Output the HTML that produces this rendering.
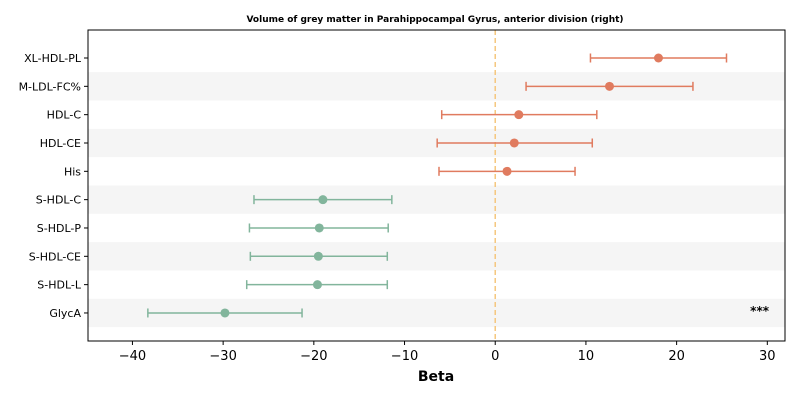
<!DOCTYPE html>
<html><head><meta charset="utf-8"><style>
body{margin:0;background:#fff;}
svg text{font-family:"DejaVu Sans","Liberation Sans",sans-serif;}
</style></head><body>
<svg id="chart" width="800" height="400" xmlns="http://www.w3.org/2000/svg">
<text x="435" y="22" text-anchor="middle" font-size="9" font-weight="bold">Volume of grey matter in Parahippocampal Gyrus, anterior division (right)</text>
<g id="bands"></g>
<g id="marks"></g>
<rect x="88" y="30" width="697" height="311" fill="none" stroke="#000" stroke-width="1"/>
<g id="axes"></g>
<text x="436" y="381" text-anchor="middle" font-size="14" font-weight="bold">Beta</text>
<text x="769" y="315" text-anchor="end" font-size="12" font-weight="bold">***</text>
</svg>
<script>
const categories=["XL-HDL-PL","M-LDL-FC%","HDL-C","HDL-CE","His","S-HDL-C","S-HDL-P","S-HDL-CE","S-HDL-L","GlycA"];
const betas=[18.0,12.6,2.6,2.1,1.3,-19.0,-19.4,-19.5,-19.6,-29.8];
const lower=[10.5,3.4,-5.9,-6.4,-6.2,-26.6,-27.1,-27.0,-27.4,-38.3];
const upper=[25.5,21.8,11.2,10.7,8.8,-11.4,-11.8,-11.9,-11.9,-21.3];
const xTicks=[-40,-30,-20,-10,0,10,20,30];

const NS="http://www.w3.org/2000/svg";
const x0=88,x1=785,dMin=-44.9,dMax=31.95;
const xs=v=>x0+(v-dMin)/(dMax-dMin)*(x1-x0);
const rowH=28.33,yTop=58;
const ys=i=>yTop+i*rowH;
function mk(tag,attrs,parent){const e=document.createElementNS(NS,tag);for(const k in attrs)e.setAttribute(k,attrs[k]);parent.appendChild(e);return e;}
const bands=document.getElementById('bands'),marks=document.getElementById('marks'),axes=document.getElementById('axes');
categories.forEach((c,i)=>{
 if(i%2===1){const b=mk('rect',{x:x0,y:ys(i)-rowH/2,width:x1-x0,height:rowH,fill:'#f5f5f5'},bands);
 
 }
});
const zl=mk('line',{x1:xs(0),x2:xs(0),y1:30,y2:341,stroke:'#f5c77e','stroke-width':1.5,'stroke-dasharray':'5,3'},marks);


categories.forEach((c,i)=>{
 const col=betas[i]>=0?'#e07b5f':'#82b59c';
 const g=mk('g',{},marks);
 
 
 const y=ys(i);
 mk('line',{x1:xs(lower[i]),x2:xs(upper[i]),y1:y,y2:y,stroke:col,'stroke-width':1.5},g);
 mk('line',{x1:xs(lower[i]),x2:xs(lower[i]),y1:y-4.5,y2:y+4.5,stroke:col,'stroke-width':1.5},g);
 mk('line',{x1:xs(upper[i]),x2:xs(upper[i]),y1:y-4.5,y2:y+4.5,stroke:col,'stroke-width':1.5},g);
 mk('circle',{cx:xs(betas[i]),cy:y,r:4.5,fill:col},g);
 const t=mk('text',{x:81,y:y+4,'text-anchor':'end','font-size':11},axes);
 t.textContent=c;
 
 
 mk('line',{x1:84,x2:88,y1:y,y2:y,stroke:'#000'},axes);
});
xTicks.forEach(v=>{
 const x=xs(v);
 mk('line',{x1:x,x2:x,y1:341,y2:345,stroke:'#000'},axes);
 const t=mk('text',{x:x,y:360,'text-anchor':'middle','font-size':13},axes);
 t.textContent=v<0?'\u2212'+Math.abs(v):String(v);
 
 
});
</script>
</body></html>
